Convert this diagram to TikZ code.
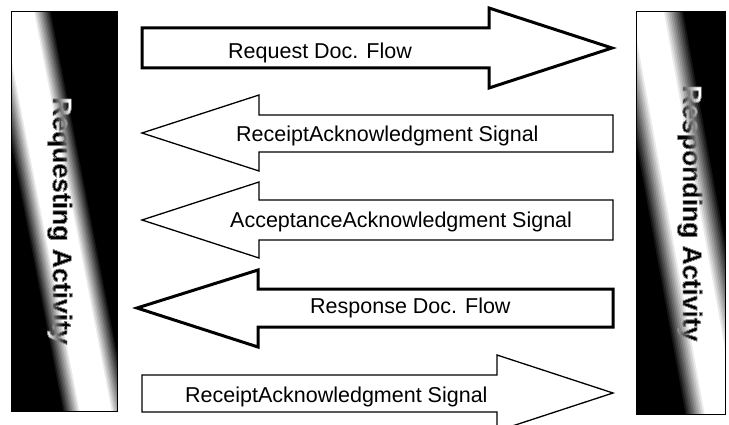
\documentclass[tikz,border=0pt]{standalone}
\usepackage{fontspec}
\setmainfont{Liberation Sans}
\newfontfamily\boxfont{Liberation Sans Bold}[FakeBold=1.6]
\begin{document}
\begin{tikzpicture}[x=1pt,y=-1pt,
  thickarrow/.style={draw=black, line width=3pt, fill=white, line join=miter},
  thinarrow/.style={draw=black, line width=1.3pt, fill=white, line join=miter},
  arrowlabel/.style={font=\fontsize{21.5}{24}\selectfont, inner sep=0pt, anchor=base west},
  boxlabel/.style={font=\fontsize{26.5}{30}\selectfont\boxfont, inner sep=0pt, anchor=base west, rotate=-90, text=white},
  boxframe/.style={draw=black, line width=1pt, inner sep=0pt}]
\useasboundingbox (0,0) rectangle (729,425);
\fill[white] (0,0) rectangle (729,425);

% ---------- left activity box: black with a diagonal light band ----------
\begin{scope}
  \clip (11,12) rectangle (117,411);
  \fill[black] (11,12) rectangle (117,411);
  \foreach \k in {0,...,12} {
    \pgfmathsetmacro\hw{34-\k*1.5}
    \pgfmathsetmacro\pc{\k*100/12}
    \fill[white!\pc!black] ({15.8-\hw},0) -- ({15.8+\hw},0) -- ({98.4+\hw},425) -- ({98.4-\hw},425) -- cycle;
  }
\end{scope}
\node[boxframe, minimum width=106pt, minimum height=399pt] (reqbox) at (64,211.5) {};
\begin{scope}[blend mode=difference]
  \node[boxlabel] (reqtext) at (53,97) {Requesting Activity};
\end{scope}

% ---------- right activity box ----------
\begin{scope}
  \clip (636,12) rectangle (725,414);
  \fill[black] (636,12) rectangle (725,414);
  \foreach \k in {0,...,12} {
    \pgfmathsetmacro\hw{37-\k*1.75}
    \pgfmathsetmacro\pc{\k*100/12}
    \fill[white!\pc!black] ({645.7-\hw},0) -- ({645.7+\hw},0) -- ({722.7+\hw},425) -- ({722.7-\hw},425) -- cycle;
  }
\end{scope}
\node[boxframe, minimum width=89pt, minimum height=402pt] (resbox) at (680.5,213) {};
\begin{scope}[blend mode=difference]
  \node[boxlabel] (restext) at (683,85) {Responding Activity};
\end{scope}

% ---------- arrows ----------
\draw[thickarrow] (142,28) -- (489,28) -- (489,8) -- (612,48) -- (489,88) -- (489,68) -- (142,68) -- cycle;
\node[arrowlabel] (a1) at (228,59) {Request Doc. Flow};

\draw[thinarrow] (613,115) -- (259,115) -- (259,95) -- (142,133) -- (259,171) -- (259,152) -- (613,152) -- cycle;
\node[arrowlabel] (a2) at (236,142) {ReceiptAcknowledgment Signal};

\draw[thinarrow] (613,200) -- (259,200) -- (259,182) -- (142,220) -- (259,258) -- (259,240) -- (613,240) -- cycle;
\node[arrowlabel] (a3) at (230,228) {AcceptanceAcknowledgment Signal};

\draw[thickarrow] (613,289) -- (258,289) -- (258,270) -- (137,308) -- (258,347) -- (258,327) -- (613,327) -- cycle;
\node[arrowlabel] (a4) at (310,313) {Response Doc. Flow};

\draw[thinarrow] (142,375) -- (497,375) -- (497,355) -- (613,393) -- (497,431) -- (497,412) -- (142,412) -- cycle;
\node[arrowlabel] (a5) at (185,402) {ReceiptAcknowledgment Signal};
\end{tikzpicture}
\end{document}
